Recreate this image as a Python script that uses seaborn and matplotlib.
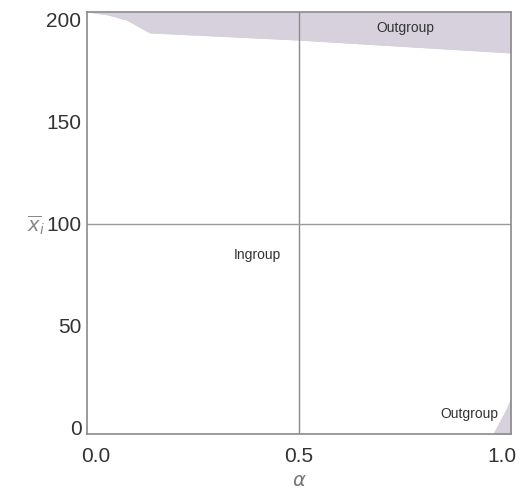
import matplotlib
matplotlib.use("Agg")
import matplotlib.pyplot as plt
import matplotlib.transforms as mtransforms
import seaborn as sns

# data
alpha_top = [0.0, 0.05, 0.094, 0.12, 0.149, 0.5, 1.0]
top_boundary = [203.5, 202.0, 199.5, 196.5, 193.2, 189.7, 183.4]
alpha_bot = [0.957, 0.975, 0.99, 1.0]
bot_boundary = [-3.0, 4.0, 10.0, 15.0]
x_ticks = [0.0, 0.5, 1.0]
x_tick_labels = ["0.0", "0.5", "1.0"]
y_ticks = [0, 50, 100, 150, 200]
y_tick_labels = ["0", "50", "100", "150", "200"]
labels = ["Outgroup", "Ingroup", "Outgroup"]

sns.set_style("white")
plt.rcParams['font.family'] = ['Liberation Sans', 'DejaVu Sans']

fig = plt.figure(figsize=(5.24, 4.95), dpi=100)
ax = fig.add_axes([0.166, 0.123, 0.809, 0.853])

fill_c = "#d6d1dc"
ymax, ymin = 203.5, -3.0
sns.lineplot(x=alpha_top, y=top_boundary, ax=ax, color=fill_c, linewidth=0.6)
ax.fill_between(alpha_top, top_boundary, ymax, color=fill_c, linewidth=0)
ax.fill_between(alpha_bot, ymin, bot_boundary, color=fill_c, linewidth=0)

ax.axvline(0.5, color="#8a8a8a", linewidth=1.0)
ax.axhline(100, color="#9a9a9a", linewidth=1.0)

ax.set_xlim(0, 1)
ax.set_ylim(ymin, ymax)
ax.set_xticks(x_ticks)
ax.set_xticklabels(x_tick_labels)
ax.set_yticks(y_ticks)
ax.set_yticklabels(y_tick_labels)
ax.tick_params(axis="both", length=0, labelsize=15, labelcolor="#333333")
ax.tick_params(axis="x", pad=9.5)
ax.tick_params(axis="y", pad=4)

# shift end x tick labels inward as in the reference
xt = ax.get_xticklabels()
xt[0].set_transform(xt[0].get_transform() + mtransforms.ScaledTranslation(9 / 100, 0, fig.dpi_scale_trans))
xt[-1].set_transform(xt[-1].get_transform() + mtransforms.ScaledTranslation(-9 / 100, 0, fig.dpi_scale_trans))

for s in ax.spines.values():
    s.set_color("#8a8a8a")
    s.set_linewidth(1.2)

ax.text(0.752, 195.5, labels[0], fontsize=10, ha="center", va="center", color="#333333")
ax.text(0.403, 84.5, labels[1], fontsize=10, ha="center", va="center", color="#333333")
ax.text(0.903, 6.8, labels[2], fontsize=10, ha="center", va="center", color="#333333")

ax.set_xlabel(r"$\alpha$", fontsize=14, color="#777777", labelpad=4.5)
ax.set_ylabel(r"$\overline{x}_i$", fontsize=14, color="#888888", rotation=0, ha="right", va="center")
ax.yaxis.set_label_coords(-0.098, 0.495)

fig.savefig("out.png", dpi=100)
